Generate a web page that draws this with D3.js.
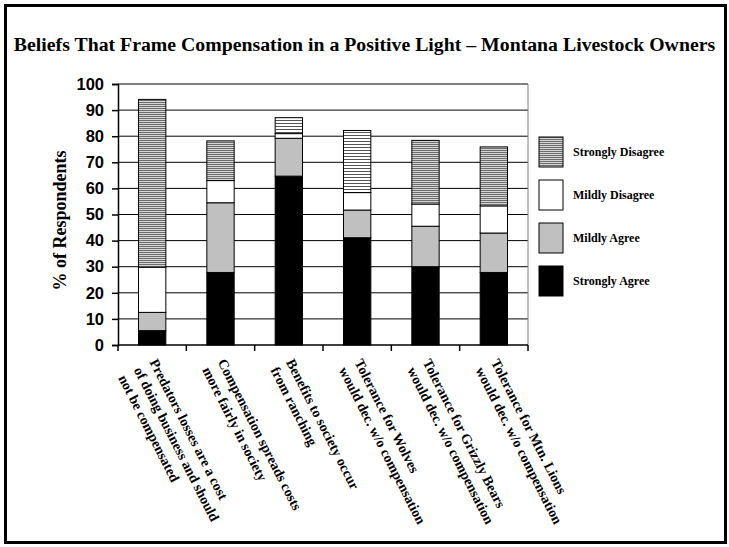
<!DOCTYPE html>
<html>
<head>
<meta charset="utf-8">
<script src="https://cdn.jsdelivr.net/npm/d3@7"></script>
<style>
  body { margin: 0; background: #fff; }
  svg { display: block; }
  .serif { font-family: "Liberation Serif", "Times New Roman", serif; font-weight: bold; }
  .axis-y text { font-family: "Liberation Sans", Arial, sans-serif; font-weight: bold; font-size: 16.5px; }
</style>
</head>
<body>
<div id="chart"></div>
<script>
// chart data
var categories = [
  ["Predators losses are a cost", "of doing business and should", "not be compensated"],
  ["Compensation spreads costs", "more fairly in society"],
  ["Benefits to society occur", "from ranching"],
  ["Tolerance for Wolves", "would dec. w/o compensation"],
  ["Tolerance for Grizzly Bears", "would dec. w/o compensation"],
  ["Tolerance for Mtn. Lions", "would dec. w/o compensation"]
];
var seriesNames = ["Strongly Agree", "Mildly Agree", "Mildly Disagree", "Strongly Disagree"];
var stronglyAgree = [5.5, 27.8, 64.7, 41.1, 30, 27.8];
var mildlyAgree = [7, 26.7, 14.5, 10.6, 15.5, 15.1];
var mildlyDisagree = [17.3, 8.5, 1.8, 6.7, 8.5, 10.4];
var stronglyDisagree = [64.3, 15.2, 6.1, 23.8, 24.4, 22.6];
var yTicks = [0, 10, 20, 30, 40, 50, 60, 70, 80, 90, 100];

var width = 729, height = 547;
var margin = { top: 84, left: 118, right: 201, bottom: 202 };
var plotW = width - margin.left - margin.right,
  plotH = height - margin.top - margin.bottom;

var svg = d3.select("#chart").append("svg")
  .attr("width", width)
  .attr("height", height);

// stripe patterns (the scanned fill looks darker on some bars)
var defs = svg.append("defs");
var pDark = defs.append("pattern").attr("id", "stripeDark")
  .attr("patternUnits", "userSpaceOnUse").attr("width", 4).attr("height", 2);
pDark.append("rect").attr("width", 4).attr("height", 2).attr("fill", "#d4d4d4");
pDark.append("rect").attr("width", 4).attr("height", 1).attr("fill", "#6e6e6e");
var pLight = defs.append("pattern").attr("id", "stripeLight")
  .attr("patternUnits", "userSpaceOnUse").attr("width", 4).attr("height", 3);
pLight.append("rect").attr("width", 4).attr("height", 3).attr("fill", "#fff");
pLight.append("rect").attr("width", 4).attr("height", 1).attr("fill", "#555");
var sdFill = ["url(#stripeDark)", "url(#stripeDark)", "url(#stripeLight)", "url(#stripeLight)", "url(#stripeDark)", "url(#stripeDark)"];
var colors = { "Strongly Agree": "#000", "Mildly Agree": "#c0c0c0", "Mildly Disagree": "#fff" };

// outer frame
svg.append("rect")
  .attr("x", 5.5).attr("y", 5.5)
  .attr("width", 720).attr("height", 537)
  .attr("fill", "#fff").attr("stroke", "#000").attr("stroke-width", 3);

svg.append("text").attr("class", "serif")
  .attr("x", width / 2).attr("y", 51)
  .attr("text-anchor", "middle")
  .attr("font-size", 19.8)
  .text("Beliefs That Frame Compensation in a Positive Light \u2013 Montana Livestock Owners");

var g = svg.append("g").attr("transform", "translate(" + margin.left + "," + margin.top + ")");

var x = d3.scaleBand().domain(d3.range(categories.length)).range([0, plotW])
  .paddingInner(0.6).paddingOuter(0.3);
var y = d3.scaleLinear().domain([0, 100]).range([plotH, 0]);

// gridlines
g.selectAll(".grid").data(yTicks.slice(1)).enter().append("line")
  .attr("x1", 0).attr("x2", plotW)
  .attr("y1", function(d) { return y(d); })
  .attr("y2", function(d) { return y(d); })
  .attr("stroke", "#000").attr("stroke-width", 1);
g.append("line").attr("x1", plotW).attr("x2", plotW).attr("y1", 0).attr("y2", plotH)
  .attr("stroke", "#808080");

// stacked bars
var rows = categories.map(function(c, i) {
  return {
    i: i,
    "Strongly Agree": stronglyAgree[i],
    "Mildly Agree": mildlyAgree[i],
    "Mildly Disagree": mildlyDisagree[i],
    "Strongly Disagree": stronglyDisagree[i]
  };
});
var stacked = d3.stack().keys(seriesNames)(rows);

g.selectAll(".layer").data(stacked).enter().append("g")
  .selectAll("rect")
  .data(function(layer) { return layer.map(function(d) { return { key: layer.key, d: d }; }); })
  .enter().append("rect")
  .attr("x", function(r) { return x(r.d.data.i); })
  .attr("width", x.bandwidth())
  .attr("y", function(r) { return y(r.d[1]); })
  .attr("height", function(r) { return y(r.d[0]) - y(r.d[1]); })
  .attr("fill", function(r) { return r.key === "Strongly Disagree" ? sdFill[r.d.data.i] : colors[r.key]; })
  .attr("stroke", "#000").attr("stroke-width", 1);

// y axis
var yAxis = g.append("g").attr("class", "axis-y")
  .call(d3.axisLeft(y).tickValues(yTicks).tickSize(6).tickPadding(8));
yAxis.select(".domain").attr("stroke", "#000").attr("stroke-width", 1.5);
yAxis.selectAll(".tick line").attr("stroke", "#000").attr("stroke-width", 1.5);
yAxis.selectAll("text").attr("fill", "#000");

// x axis: ticks at category boundaries
var xAxisG = g.append("g").attr("transform", "translate(0," + plotH + ")");
xAxisG.append("line").attr("x1", 0).attr("x2", plotW).attr("stroke", "#000").attr("stroke-width", 1.5);
xAxisG.selectAll(".xt").data(d3.range(categories.length + 1)).enter().append("line")
  .attr("x1", function(i) { return i * x.step(); })
  .attr("x2", function(i) { return i * x.step(); })
  .attr("y1", 0).attr("y2", 6)
  .attr("stroke", "#000").attr("stroke-width", 1.5);

// rotated category labels
var angle = 63, lineH = 17.5;
xAxisG.selectAll(".xl").data(categories).enter().append("text")
  .attr("class", "serif")
  .attr("font-size", 14)
  .attr("transform", function(c, i) {
    var cx = x(i) + x.bandwidth() / 2 - 3;
    return "translate(" + cx + ",17) rotate(" + angle + ")";
  })
  .selectAll("tspan").data(function(c) { return c; }).enter().append("tspan")
  .attr("x", 0)
  .attr("y", function(t, j) { return j * lineH; })
  .text(function(t) { return t; });

// y title
svg.append("text").attr("class", "serif")
  .attr("transform", "translate(66," + (margin.top + plotH / 2 + 6) + ") rotate(-90)")
  .attr("text-anchor", "middle")
  .attr("font-size", 18)
  .text("% of Respondents");

// legend, top to bottom
var legendKeys = seriesNames.slice().reverse();
var legend = svg.append("g").attr("transform", "translate(539,137)");
var li = legend.selectAll(".li").data(legendKeys).enter().append("g")
  .attr("transform", function(d, i) { return "translate(0," + (i * 43) + ")"; });
li.append("rect").attr("width", 24).attr("height", 30)
  .attr("fill", function(d) { return d === "Strongly Disagree" ? "url(#stripeDark)" : colors[d]; })
  .attr("stroke", "#000").attr("stroke-width", 1);
li.append("text").attr("class", "serif")
  .attr("x", 34).attr("y", 19)
  .attr("font-size", 12)
  .text(function(d) { return d; });
</script>
</body>
</html>
